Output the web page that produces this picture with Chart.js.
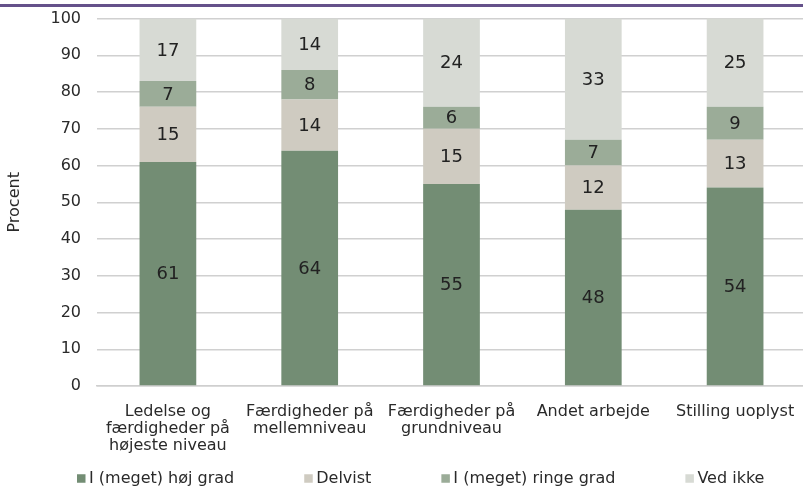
<!DOCTYPE html>
<html>
<head>
<meta charset="utf-8">
<script src="https://cdn.jsdelivr.net/npm/chart.js@4.4.0/dist/chart.umd.min.js"></script>
<style>
  html, body { margin: 0; padding: 0; background: #fff; overflow: hidden; }
  #wrap { position: relative; width: 806px; height: 489px; overflow: hidden; }
  #chart { position: absolute; left: 0; top: -7px; }
  #topline { position: absolute; left: 0; top: 4px; width: 803px; height: 3px; background: #65518a; }
</style>
</head>
<body>
<div id="wrap">
  <canvas id="chart" width="806" height="496"></canvas>
  <div id="topline"></div>
</div>
<script>
const FONT = "'DejaVu Sans', 'Noto Sans', sans-serif";
Chart.defaults.font.family = FONT;
Chart.defaults.font.size = 16;
Chart.defaults.color = '#2a2a2a';

const CATEGORIES = [
    ['Ledelse og', 'færdigheder på', 'højeste niveau'],
    ['Færdigheder på', 'mellemniveau'],
    ['Færdigheder på', 'grundniveau'],
    'Andet arbejde',
    'Stilling uoplyst'
];
const SERIES_NAMES = ['I (meget) høj grad', 'Delvist', 'I (meget) ringe grad', 'Ved ikke'];
const HOJ     = [61, 64, 55, 48, 54];
const DELVIS  = [15, 14, 15, 12, 13];
const RINGE   = [7, 8, 6, 7, 9];
const VEDIKKE = [17, 14, 24, 33, 25];
const COLORS = ['#738d74', '#cfcbc1', '#9bac98', '#d7dad4'];
const Y_TICKS = [0, 10, 20, 30, 40, 50, 60, 70, 80, 90, 100];

// value labels in the middle of each segment
const segmentLabels = {
    id: 'segmentLabels',
    afterDatasetsDraw(chart) {
        const ctx = chart.ctx;
        ctx.save();
        ctx.font = '18px ' + FONT;
        ctx.fillStyle = '#222';
        ctx.textAlign = 'center';
        ctx.textBaseline = 'middle';
        chart.data.datasets.forEach((ds, i) => {
            chart.getDatasetMeta(i).data.forEach((bar, j) => {
                const top = Math.max(bar.y, chart.chartArea.top);
                ctx.fillText(String(ds.data[j]), bar.x, (top + bar.base) / 2 + 1);
            });
        });
        ctx.restore();
    }
};

// legend row at the bottom, items laid out left to right with a fixed gap
const bottomLegend = {
    id: 'bottomLegend',
    afterDraw(chart) {
        const ctx = chart.ctx;
        const box = 8.5, gap = 70, textOff = 12, y = 485.5;
        ctx.save();
        ctx.font = '16px ' + FONT;
        ctx.textBaseline = 'middle';
        ctx.textAlign = 'left';
        let x = 77;
        chart.data.datasets.forEach(ds => {
            ctx.fillStyle = ds.backgroundColor;
            ctx.fillRect(x, y - box / 2, box, box);
            ctx.fillStyle = '#2a2a2a';
            ctx.fillText(ds.label, x + textOff, y);
            x += textOff + ctx.measureText(ds.label).width + gap;
        });
        ctx.restore();
    }
};

const datasets = [HOJ, DELVIS, RINGE, VEDIKKE].map((vals, i) => ({
    label: SERIES_NAMES[i],
    data: vals,
    backgroundColor: COLORS[i],
    borderWidth: 0,
    barPercentage: 0.4,
    categoryPercentage: 1.0
}));

new Chart(document.getElementById('chart'), {
    type: 'bar',
    data: { labels: CATEGORIES, datasets },
    plugins: [segmentLabels, bottomLegend],
    options: {
        responsive: false,
        animation: false,
        layout: { padding: { top: 1, right: 0, bottom: 30, left: 0 } },
        plugins: {
            legend: { display: false },
            tooltip: { enabled: false }
        },
        scales: {
            x: {
                stacked: true,
                grid: { display: false },
                border: { color: '#cfcfcf', width: 1.5 },
                afterFit: axis => { axis.height = 73; },
                ticks: { maxRotation: 0, autoSkip: false, padding: 9, color: '#2a2a2a', font: { size: 16, lineHeight: 1.08 } }
            },
            y: {
                stacked: true,
                min: 0,
                max: 100,
                afterBuildTicks: axis => { axis.ticks = Y_TICKS.map(v => ({ value: v })); },
                afterFit: axis => { axis.width = 97; },
                grid: { color: '#d0d0d0', lineWidth: 1.5, drawTicks: false },
                border: { display: false },
                ticks: { padding: 16, color: '#2a2a2a', font: { size: 16 } },
                title: { display: true, text: 'Procent', color: '#2a2a2a', font: { size: 16 }, padding: { top: 5, bottom: 0 } }
            }
        }
    }
});
</script>
</body>
</html>
